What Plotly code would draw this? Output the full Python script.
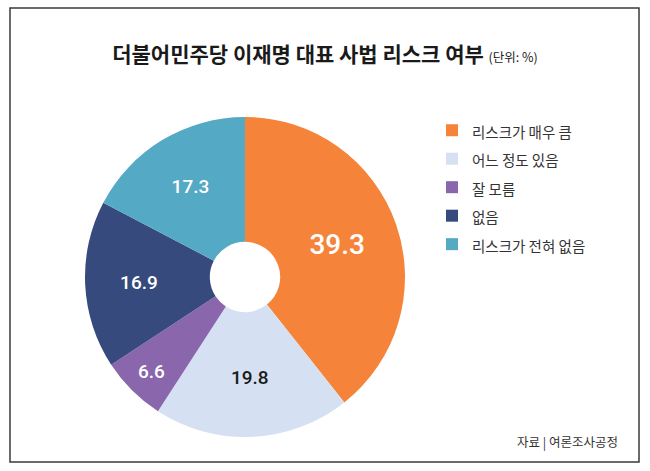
"""Donut chart: 더불어민주당 이재명 대표 사법 리스크 여부."""

import plotly.graph_objects as go

W, H = 650, 471

LABELS = ["리스크가 매우 큼", "어느 정도 있음", "잘 모름", "없음", "리스크가 전혀 없음"]
VALUES = [39.3, 19.8, 6.6, 16.9, 17.3]
COLORS = ["#F5843A", "#D5E1F2", "#8A66AC", "#364A7E", "#54A9C4"]
TEXT_COLORS = ["white", "#1a1a1a", "white", "white", "white"]
TEXT_SIZES = [28, 19, 19, 19, 19]

KR_FONT = "Noto Sans CJK KR"
NUM_FONT = "Roboto"


def px_x(x):
    return x / W


def px_y(y):
    return 1 - y / H


fig = go.Figure(
    go.Pie(
        labels=[f"<span style='font-size:14.5px'>{t}</span>" for t in LABELS],
        values=VALUES,
        hole=0.22,
        sort=False,
        direction="clockwise",
        rotation=0,
        marker=dict(colors=COLORS, line=dict(width=0)),
        texttemplate="%{value:.1f}",
        textposition="inside",
        insidetextorientation="horizontal",
        textfont=dict(family=NUM_FONT, size=TEXT_SIZES, color=TEXT_COLORS, weight=500),
        domain=dict(x=[px_x(85), px_x(405)], y=[px_y(437), px_y(117)]),
        hoverinfo="label+value",
    )
)

fig.update_layout(
    width=W,
    height=H,
    margin=dict(l=0, r=0, t=0, b=0),
    paper_bgcolor="white",
    plot_bgcolor="white",
    font=dict(family=KR_FONT, color="#222"),
    title=dict(
        text=(
            "<b>더불어민주당 이재명 대표 사법 리스크 여부</b>"
            " <span style='font-size:12.5px'>(단위: %)</span>"
        ),
        x=0.5,
        xanchor="center",
        y=px_y(55),
        yanchor="middle",
        font=dict(family=KR_FONT, size=21, color="#1a1a1a"),
    ),
    showlegend=True,
    legend=dict(
        x=px_x(432),
        y=px_y(111),
        xanchor="left",
        yanchor="top",
        font=dict(family=KR_FONT, size=19.6, color="#333"),
        bgcolor="rgba(0,0,0,0)",
    ),
    shapes=[
        dict(
            type="rect",
            xref="paper",
            yref="paper",
            x0=px_x(10),
            x1=px_x(639),
            y0=px_y(462),
            y1=px_y(8),
            line=dict(color="#3a3a3a", width=1.5),
        )
    ],
    annotations=[
        dict(
            text="자료 | 여론조사공정",
            x=px_x(620),
            y=px_y(441),
            xref="paper",
            yref="paper",
            xanchor="right",
            yanchor="middle",
            showarrow=False,
            font=dict(family=KR_FONT, size=12.5, color="#333"),
        )
    ],
)

# drop the browser's default 8px body margin so the figure sits at (0, 0)
fig.write_html(
    "out.html",
    config={"displayModeBar": False},
    post_script="document.body.style.margin = '0';",
)
